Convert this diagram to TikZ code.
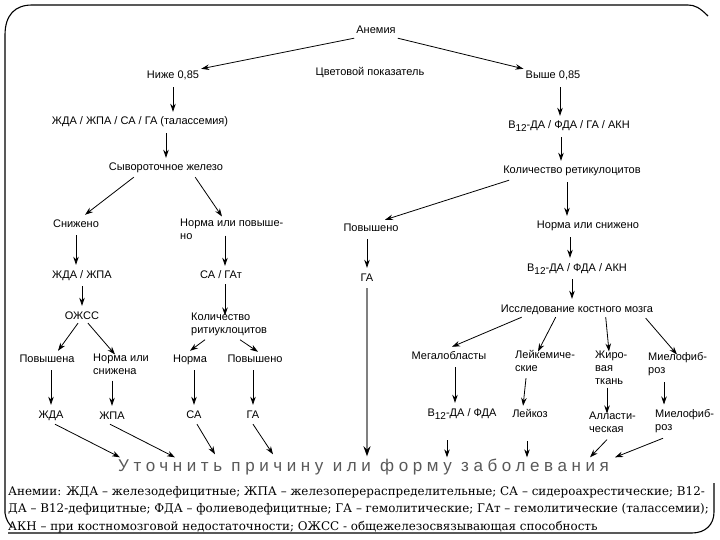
\documentclass[tikz,border=0pt]{standalone}
\usepackage{fontspec}
\setmainfont{Liberation Sans}
\newfontfamily\legendfont{DejaVu Serif}
\newfontfamily\spacedfont[LetterSpace=27]{Liberation Sans}
\usetikzlibrary{arrows.meta,calc}
\newcommand{\Bdv}{B\raisebox{-3pt}{\fontsize{10}{10}\selectfont 12}}
\begin{document}
\begin{tikzpicture}[x=1pt,y=-1pt,
  lbl/.style={font=\fontsize{11}{13}\selectfont, inner sep=2pt, text height=8pt, text depth=2pt},
  mlbl/.style={font=\fontsize{11}{13}\selectfont, inner sep=2pt, align=left, anchor=north west},
  arr/.style={draw, line width=0.8pt, -{Stealth[length=8pt,width=5.5pt]}},
  vert/.style={arr, shorten <=4pt, shorten >=3pt},
  frame/.style={draw, line width=1.1pt}]
\useasboundingbox[fill=white] (0,0) rectangle (720,540);
% frame
\draw[frame] (708,16) .. controls (700,8) and (695,5) .. (688,5) -- (32,5)
  .. controls (15,5) and (5,15) .. (5,35) -- (5,513) .. controls (6,520) and (9,524) .. (12,527);
\draw[frame] (8,533) -- (692,533) .. controls (705,533) and (714,525) .. (714,512) -- (714,483);

% top
\node[lbl] (anem) at (376,31) {Анемия};
\node[lbl] (cvet) at (370,73) {Цветовой показатель};
\node[lbl] (nizhe) at (173,76) {Ниже 0,85};
\node[lbl] (vyshe) at (553,76) {Выше 0,85};
% left branch
\node[lbl] (zhda4) at (140,122) {ЖДА / ЖПА / СА / ГА (талассемия)};
\node[lbl] (syv) at (166,168) {Сывороточное железо};
\node[lbl] (snizh) at (76,224) {Снижено};
\node[mlbl] (normpov) at (178,216.5) {Норма или повыше-\\но};
\node[lbl] (zhdazhpa) at (82,275) {ЖДА / ЖПА};
\node[lbl] (ozhss) at (82,316) {ОЖСС};
\node[lbl] (sagat) at (221,275) {СА / ГАт};
\node[mlbl] (kolrit) at (189,310.5) {Количество\\ритиуклоцитов};
\node[lbl] (povyshena) at (47,359) {Повышена};
\node[mlbl] (normsniz) at (91,351.5) {Норма или\\снижена};
\node[lbl] (norma) at (190,359) {Норма};
\node[lbl] (povysheno) at (255,359) {Повышено};
\node[lbl] (zhda) at (51,415) {ЖДА};
\node[lbl] (zhpa) at (112,416) {ЖПА};
\node[lbl] (sa) at (194,415) {СА};
\node[lbl] (ga) at (253,415) {ГА};
% right branch
\node[lbl] (b12a) at (569,126) {\Bdv-ДА / ФДА / ГА / АКН};
\node[lbl] (kolr) at (572,171) {Количество ретикулоцитов};
\node[lbl] (povR) at (371,228) {Повышено};
\node[lbl] (gaR) at (367,278) {ГА};
\node[lbl] (normsnR) at (588,226) {Норма или снижено};
\node[lbl] (b12b) at (577,268) {\Bdv-ДА / ФДА / АКН};
\node[lbl] (issl) at (577,309) {Исследование костного мозга};
\node[lbl] (megal) at (449,356) {Мегалобласты};
\node[mlbl] (leyk) at (513,348.5) {Лейкемиче-\\ские};
\node[mlbl] (zhir) at (593,348.5) {Жиро-\\вая\\ткань};
\node[mlbl] (mielo) at (646,350.5) {Миелофиб-\\роз};
\node[lbl] (b12c) at (462,413) {\Bdv-ДА / ФДА};
\node[lbl] (leykoz) at (530,414) {Лейкоз};
\node[mlbl] (allast) at (587,409.5) {Алласти-\\ческая};
\node[mlbl] (mielo2) at (653,407.5) {Миелофиб-\\роз};
% bottom
\node[anchor=base west, inner sep=0pt, text=black!65, font=\spacedfont\fontsize{17}{20}\selectfont] (utoch) at (118,471) {Уточнить причину или форму заболевания};
\node[anchor=north west, inner sep=0pt, align=left, font=\legendfont\fontsize{11.9}{17.5}\selectfont] (legend) at (8,486)
 {Анемии: ЖДА – железодефицитные; ЖПА – железоперераспределительные; СА – сидероахрестические; В12-\\
  ДА – В12-дефицитные; ФДА – фолиеводефицитные; ГА – гемолитические; ГАт – гемолитические (талассемии);\\
  АКН – при костномозговой недостаточности; ОЖСС - общежелезосвязывающая способность};

% connectors top
\draw[arr] (anem.south west) -- (nizhe.north east);
\draw[arr] (anem.south east) -- (vyshe.north west);
\draw[vert] (nizhe.south) -- (nizhe.south |- zhda4.north);
\draw[vert] (syv.north |- zhda4.south) -- (syv.north);
\draw[arr] ($(syv.south west)+(27,2)$) -- ($(snizh.north)+(9,-2)$);
\draw[arr] ($(syv.south east)+(-30,2)$) -- ($(normpov.north west)+(44,0)$);
\draw[vert] (snizh.south) -- (snizh.south |- zhdazhpa.north);
\draw[vert] (ozhss.north |- zhdazhpa.south) -- (ozhss.north);
\draw[arr] ($(sagat.north |- normpov.south)+(4,-6)$) -- ($(sagat.north)+(4,-2)$);
\draw[arr] ($(sagat.south)+(4,2)$) -- ($(kolrit.north west)+(36,5)$);
\draw[arr] ($(ozhss.south)+(-4,0)$) -- ($(povyshena.north)+(11,-1)$);
\draw[arr] ($(ozhss.south)+(6,0)$) -- ($(normsniz.north west)+(24,3)$);
\draw[arr] ($(kolrit.south west)+(16,2)$) -- ($(norma.north)+(0,-1)$);
\draw[arr] ($(kolrit.south west)+(51,2)$) -- ($(povysheno.north)+(3,0)$);
\draw[vert] (zhda.north |- povyshena.south) -- (zhda.north);
\draw[vert] (zhpa.north |- normsniz.south) -- (zhpa.north);
\draw[vert] (sa.north |- norma.south) -- (sa.north);
\draw[vert] (ga.north |- povysheno.south) -- (ga.north);
\draw[arr] ($(zhda.south)+(4,2)$) -- ($(utoch.north west)+(2,-1)$);
\draw[arr] ($(zhpa.south)+(-2,1)$) -- ($(utoch.north west)+(57,-1)$);
\draw[arr] ($(sa.south)+(3,2)$) -- ($(utoch.north west)+(97,-4)$);
\draw[arr] ($(ga.south)+(0,2)$) -- ($(utoch.north west)+(155,-4)$);
% connectors right
\draw[vert] (vyshe.south -| b12a.north) ++(-9,0) -- ($(b12a.north)+(-9,0)$);
\draw[vert] ($(b12a.south)+(-8,0)$) -- ($(b12a.south |- kolr.north)+(-8,0)$);
\draw[arr] ($(kolr.south west)+(8,2)$) -- ($(povR.north)+(14,-1)$);
\draw[vert] (kolr.south) ++(-5,0) -- ($(kolr.south |- normsnR.north)+(-5,0)$);
\draw[vert] (gaR.north |- povR.south) -- (gaR.north);
\draw[draw=black!50, line width=2.2pt, -{Stealth[length=10pt,width=7pt,color=black]}, shorten <=3pt]
  (gaR.south) -- ($(gaR.south |- utoch.north)+(0,-2)$);
\draw[vert] (normsnR.south -| kolr.south) ++(-2,0) -- ($(b12b.north -| kolr.south)+(-2,0)$);
\draw[vert] (b12b.south -| kolr.south) -- (issl.north -| kolr.south);
\draw[arr] ($(issl.south west)+(23,1)$) -- ($(megal.north)+(3,-2)$);
\draw[arr] ($(issl.south west)+(57,1)$) -- ($(leyk.north west)+(25,3)$);
\draw[arr] ($(issl.south west)+(107,1)$) -- ($(zhir.north west)+(16,3)$);
\draw[arr] ($(issl.south west)+(147,2)$) -- ($(mielo.north west)+(31,4)$);
\draw[vert] ($(megal.south)+(6,0)$) -- ($(megal.south |- b12c.north)+(6,0)$);
\draw[arr] ($(leyk.south west)+(13,4)$) -- ($(leykoz.north west)+(13,-1)$);
\draw[arr] ($(zhir.south west)+(14,1)$) -- ($(allast.north west)+(20,4)$);
\draw[arr] ($(mielo.south west)+(18,4)$) -- ($(mielo2.north west)+(11,-3)$);
\draw[arr] ($(b12c.south)+(-15,20)$) -- ($(b12c.south |- utoch.north)+(-15,-1)$);
\draw[arr] ($(leykoz.south)+(-3,20)$) -- ($(leykoz.south |- utoch.north)+(-3,-1)$);
\draw[arr] ($(allast.south west)+(20,5)$) -- ($(utoch.north west)+(472,-1)$);
\draw[arr] ($(mielo2.south west)+(10,3)$) -- ($(utoch.north west)+(497,-1)$);
\end{tikzpicture}
\end{document}
